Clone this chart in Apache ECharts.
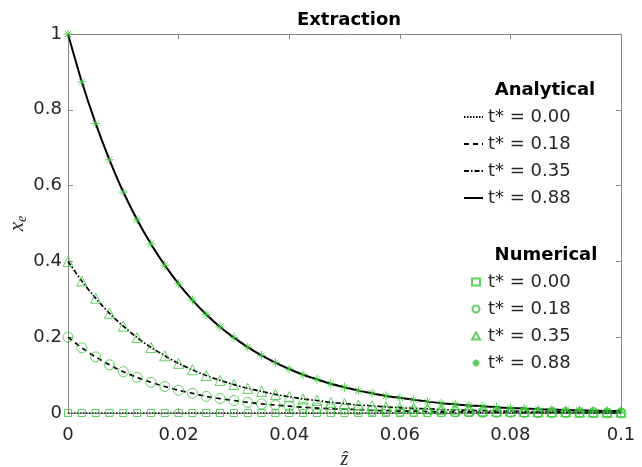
<!DOCTYPE html>
<html>
<head>
<meta charset="utf-8">
<script src="https://cdn.jsdelivr.net/npm/echarts@6/dist/echarts.min.js"></script>
<style>html,body{margin:0;padding:0;background:#fff}#c{width:642px;height:467px}</style>
</head>
<body>
<div id="c"></div>
<script>
// ---- data ----
var zHat = [0,0.0025,0.005,0.0075,0.01,0.0125,0.015,0.0175,0.02,0.0225,0.025,0.0275,0.03,0.0325,0.035,0.0375,0.04,0.0425,0.045,0.0475,0.05,0.0525,0.055,0.0575,0.06,0.0625,0.065,0.0675,0.07,0.0725,0.075,0.0775,0.08,0.0825,0.085,0.0875,0.09,0.0925,0.095,0.0975,0.1];
var xe000 = [0,0,0,0,0,0,0,0,0,0,0,0,0,0,0,0,0,0,0,0,0,0,0,0,0,0,0,0,0,0,0,0,0,0,0,0,0,0,0,0,0];
var xe018 = [0.200,0.172,0.148,0.127,0.109,0.094,0.081,0.070,0.060,0.052,0.044,0.038,0.033,0.028,0.024,0.021,0.018,0.015,0.013,0.011,0.010,0.009,0.007,0.006,0.005,0.005,0.004,0.003,0.003,0.003,0.002,0.002,0.002,0.001,0.001,0.001,0.001,0.001,0.001,0.000,0.000];
var xe035 = [0.400,0.348,0.303,0.263,0.229,0.199,0.173,0.151,0.131,0.114,0.099,0.086,0.075,0.065,0.057,0.049,0.043,0.037,0.033,0.028,0.025,0.021,0.019,0.016,0.014,0.012,0.011,0.009,0.008,0.007,0.006,0.005,0.005,0.004,0.003,0.003,0.003,0.002,0.002,0.002,0.002];
var xe088 = [1.000,0.874,0.764,0.668,0.583,0.510,0.446,0.390,0.341,0.298,0.260,0.227,0.199,0.174,0.152,0.133,0.116,0.101,0.089,0.077,0.068,0.059,0.052,0.045,0.040,0.035,0.030,0.026,0.023,0.020,0.018,0.015,0.013,0.012,0.010,0.009,0.008,0.007,0.006,0.005,0.005];
var seriesLabels = ['t* = 0.00','t* = 0.18','t* = 0.35','t* = 0.88'];
var xTicks = [0, 0.02, 0.04, 0.06, 0.08, 0.1];
var yTicks = [0, 0.2, 0.4, 0.6, 0.8, 1];

// ---- styling ----
var green = '#38c538';
var font = 'DejaVu Sans, Liberation Sans, Arial, sans-serif';
var serif = 'Liberation Serif, DejaVu Serif, serif';
var axisGray = '#8a8a8a';
var txt = '#262626';

function pairs(ys){ return zHat.map(function(z,i){ return [z, ys[i]]; }); }
var allY = [xe000, xe018, xe035, xe088];
var lineDash = [[1.5,1.5],[5,4],[5,2,1.5,2],'solid'];
var lineW = [1.6,1.7,1.7,2];
var symbols = ['rect','circle','triangle','path://M5,0L5,10M0,5L10,5M1.6,1.6L8.4,8.4M1.6,8.4L8.4,1.6'];
var symSize = [7,10,10,9];

var series = [];
allY.forEach(function(ys,k){
  series.push({
    name: 'A:' + seriesLabels[k], type: 'line', data: pairs(ys), xAxisIndex:0, yAxisIndex:0,
    symbol: 'none', smooth: 0.3, z: 2,
    lineStyle: {color:'#000', width: lineW[k], type: lineDash[k]},
    itemStyle: {color:'#000'}
  });
});
allY.forEach(function(ys,k){
  series.push({
    name: 'N:' + seriesLabels[k], type: 'scatter', data: pairs(ys), xAxisIndex:0, yAxisIndex:0,
    symbol: symbols[k], symbolSize: symSize[k], symbolKeepAspect: true, z: 5,
    itemStyle: {color:'rgba(0,0,0,0)', borderColor: green, borderWidth: 1}
  });
});

var tickBase = {show:true, inside:true, length:5, lineStyle:{color:axisGray}};
var titleStyle = {fontFamily:font, fontWeight:'bold', fontSize:18, color:'#000'};
var chart = echarts.init(document.getElementById('c'), null, {renderer:'canvas'});
chart.setOption({
  animation: false,
  backgroundColor: '#fff',
  title: [
    {text:'Extraction', left: 344, top: 6, textAlign:'center', textStyle:titleStyle},
    {text:'Analytical', left: 540, top: 76, textAlign:'center', textStyle:titleStyle},
    {text:'Numerical', left: 541, top: 241, textAlign:'center', textStyle:titleStyle}
  ],
  grid: {left:68, right:21, top:34, bottom:54, containLabel:false, outerBoundsMode:'none'},
  xAxis: [
    {type:'value', min:0, max:0.1, interval:0.02, position:'bottom',
     name:'ẑ', nameLocation:'middle', nameGap:37, nameMoveOverlap:false,
     nameTextStyle:{fontFamily:serif, fontStyle:'italic', fontSize:20, color:txt},
     axisLine:{show:true, onZero:false, lineStyle:{color:axisGray, width:1}},
     axisTick: tickBase, splitLine:{show:false},
     axisLabel:{fontFamily:font, fontSize:18, color:txt, margin:13}},
    {type:'value', min:0, max:0.1, interval:0.02, position:'top',
     axisLine:{show:true, onZero:false, lineStyle:{color:axisGray, width:1}},
     axisTick: tickBase, splitLine:{show:false}, axisLabel:{show:false}}
  ],
  yAxis: [
    {type:'value', min:0, max:1, interval:0.2, position:'left',
     name:'{a|x}{b|e}', nameLocation:'middle', nameGap:39, nameRotate:90, nameMoveOverlap:false,
     nameTextStyle:{rich:{a:{fontFamily:serif, fontStyle:'italic', fontSize:21, color:txt},
                          b:{fontFamily:serif, fontStyle:'italic', fontSize:14, color:txt, verticalAlign:'bottom', padding:[9,0,0,0]}}},
     axisLine:{show:true, onZero:false, lineStyle:{color:axisGray, width:1}},
     axisTick: tickBase, splitLine:{show:false},
     axisLabel:{fontFamily:font, fontSize:18, color:txt, margin:6}},
    {type:'value', min:0, max:1, interval:0.2, position:'right',
     axisLine:{show:true, onZero:false, lineStyle:{color:axisGray, width:1}},
     axisTick: tickBase, splitLine:{show:false}, axisLabel:{show:false}}
  ],
  legend: [
    {data: seriesLabels.map(function(s){return 'A:'+s;}), orient:'vertical', left:463, top:107, padding:0,
     itemWidth:19, itemHeight:14, itemGap:7, selectedMode:false,
     itemStyle:{opacity:0},
     formatter:function(n){return n.slice(2);},
     textStyle:{fontFamily:font, fontSize:18, color:txt, lineHeight:20}},
    {data: seriesLabels.map(function(s){return 'N:'+s;}), orient:'vertical', left:471, top:272, padding:0,
     itemWidth:8, itemHeight:7, itemGap:7, selectedMode:false, symbolKeepAspect:true,
     formatter:function(n){return n.slice(2);},
     textStyle:{fontFamily:font, fontSize:18, color:txt, lineHeight:20, padding:[0,0,0,3]}}
  ],
  series: series
});
</script>
</body>
</html>
